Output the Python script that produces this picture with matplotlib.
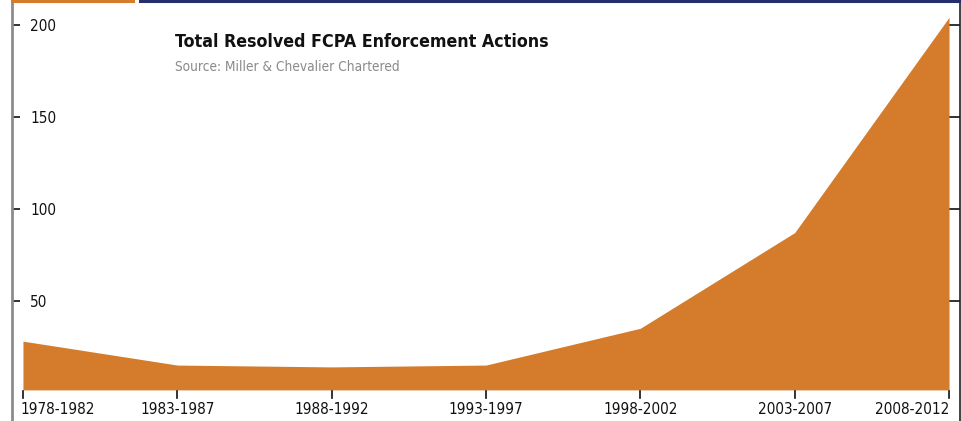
import matplotlib.pyplot as plt
from matplotlib.transforms import blended_transform_factory, offset_copy

periods = ['1978-1982', '1983-1987', '1988-1992', '1993-1997',
           '1998-2002', '2003-2007', '2008-2012']
actions = [28, 15, 14, 15, 35, 87, 204]
y_ticks = [50, 100, 150, 200]

ORANGE = '#d47c2b'
NAVY = '#262f6b'

plt.rcParams['font.family'] = ['DejaVu Sans']
plt.rcParams['font.stretch'] = 'condensed'

fig = plt.figure(figsize=(9.62, 4.21), dpi=100)
W, H = 962, 421
ax = fig.add_axes([12 / W, 0, 948 / W, 1])

x = list(range(len(periods)))
base = 1.5
ax.fill_between(x, base, actions, color=ORANGE, linewidth=0, zorder=2)

ax.set_xlim(-0.071, len(periods) - 1 + 0.071)
ax.set_ylim(-15.4, 213.4)

for side in ['top', 'bottom']:
    ax.spines[side].set_visible(False)
ax.spines['left'].set_color('#8c8c8c')
ax.spines['left'].set_linewidth(2)
ax.spines['right'].set_color('#222222')
ax.spines['right'].set_linewidth(1.2)

ax.set_xticks([])
ax.set_yticks(y_ticks)
ax.set_yticklabels([str(v) for v in y_ticks])
ax.tick_params(axis='y', direction='in', length=6, width=1.2, color='#111111',
               labelsize=11, labelcolor='#111111', pad=-13,
               right=True, labelright=False)
for lab in ax.get_yticklabels():
    lab.set_horizontalalignment('left')
for t in ax.yaxis.get_major_ticks():
    t.tick2line.set_markersize(8)
    t.tick2line.set_color('#333333')

# period ticks and labels under the area
tr = blended_transform_factory(ax.transData, fig.transFigure)
for xi, name in zip(x, periods):
    ax.plot([xi, xi], [1 - 391 / H, 1 - 398 / H], color='#111111', lw=1.2,
            transform=tr, clip_on=False, zorder=3)
    ha, t = 'center', tr
    if xi == 0:
        ha, t = 'left', offset_copy(tr, fig=fig, x=-3, units='dots')
    elif xi == len(periods) - 1:
        ha = 'right'
    ax.text(xi, 1 - 410 / H, name, transform=t, ha=ha, va='center',
            fontsize=11, color='#111111')

# coloured rule along the top
fig.add_artist(plt.Line2D([12 / W, 133 / W], [1 - 1 / H, 1 - 1 / H],
                          color=ORANGE, lw=2.2, transform=fig.transFigure))
fig.add_artist(plt.Line2D([140 / W, 1], [1 - 1 / H, 1 - 1 / H],
                          color=NAVY, lw=2.2, transform=fig.transFigure))

fig.text(175 / W, 1 - 42 / H, 'Total Resolved FCPA Enforcement Actions',
         fontsize=12.8, fontweight='bold', color='#111111', va='center')
fig.text(175 / W, 1 - 67 / H, 'Source: Miller & Chevalier Chartered',
         fontsize=9.8, color='#8a8a8a', va='center')

fig.savefig('out.png', dpi=100)
